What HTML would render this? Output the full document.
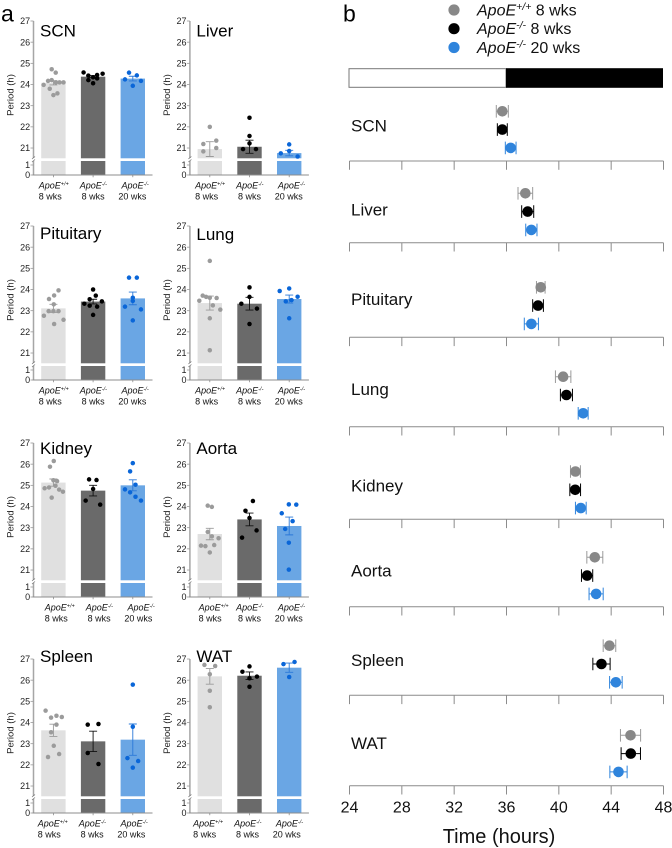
<!DOCTYPE html>
<html lang="en">
<head>
<meta charset="utf-8">
<title>Period and phase of ApoE tissues</title>
<style>
html,body{margin:0;padding:0;background:#fff;}
body{width:672px;height:848px;overflow:hidden;}
svg{display:block;font-family:"Liberation Sans",sans-serif;}
</style>
</head>
<body>
<svg id="figure" width="672" height="848" viewBox="0 0 672 848" xmlns="http://www.w3.org/2000/svg">
  <text x="1" y="21.5" font-size="23" fill="#000">a</text>
  <text x="343" y="21.5" font-size="23" fill="#000">b</text>
</svg>
<script>
const tissues = ['SCN','Liver','Pituitary','Lung','Kidney','Aorta','Spleen','WAT'];
const phaseTissues = ['SCN','Liver','Pituitary','Lung','Kidney','Aorta','Spleen','WAT'];
const groupGenotypes = ['+/+','-/-','-/-'];
const groupAges = ['8 wks','8 wks','20 wks'];
const legendLabels = ['8 wks','8 wks','20 wks'];
const upperTicks = [27,26,25,24,23,22,21];
const lowerTicks = [1,0];
const timeTicks = [24,28,32,36,40,44,48];

/* Period (h): mean of each group, per tissue */
const periodMeans = [
  [24.08,24.37,24.28],[20.95,21.06,20.76],[23.11,23.43,23.58],[23.36,23.33,23.55],
  [25.13,24.75,25.0],[22.7,23.39,23.08],[23.63,23.11,23.19],[26.18,26.21,26.59]
];
const periodSems = [
  [0.1,0.05,0.11],[0.35,0.31,0.13],[0.19,0.11,0.3],[0.33,0.3,0.19],
  [0.17,0.25,0.26],[0.27,0.3,0.42],[0.29,0.48,0.74],[0.37,0.18,0.22]
];
/* Individual samples */
const samplesControl = [
  [24.72,24.56,24.21,24.17,23.98,24.1,24.1,24.1,23.8,23.58,23.5],
  [22.0,21.35,21.19,21.0,20.84],
  [23.96,23.72,23.55,23.3,22.98,22.98,22.98,22.76,22.57,22.37],
  [25.35,23.71,23.65,23.61,23.6,23.47,23.25,23.05,22.64,21.13],
  [26.15,25.88,25.24,25.2,24.98,24.9,24.86,24.8,24.7,24.42],
  [24.04,23.98,22.8,22.59,22.5,22.15,22.13,22.18,21.83],
  [24.56,24.23,24.32,24.26,23.9,23.54,22.9,22.51,22.37],
  [26.72,26.67,26.28,25.5,24.72]
];
const samplesYoung = [
  [24.57,24.51,24.45,24.42,24.34,24.29,24.21,24.06],
  [22.43,21.57,21.22,20.95,20.95],
  [24.0,23.71,23.54,23.44,23.33,23.24,23.19,22.8],
  [24.1,23.65,23.33,23.1,22.37],
  [25.28,25.25,24.83,24.28,24.09],
  [24.26,23.8,23.46,22.87,22.53],
  [23.9,23.93,22.56,22.04],
  [26.65,26.4,26.17,26.09,25.69]
];
const samplesOld = [
  [24.56,24.43,24.24,24.17,23.94],
  [21.17,20.86,20.75,20.6],
  [24.56,24.56,23.61,23.46,23.19,23.06,22.54],
  [24.05,23.93,23.66,23.5,23.44,22.64],
  [26.05,25.66,25.03,24.81,24.67,24.46,24.28],
  [24.1,24.09,23.68,23.31,22.94,22.29,21.02],
  [25.79,23.8,22.32,22.18,21.87],
  [26.86,26.76,26.15]
];
/* Horizontal scatter of samples as a fraction of half a bar */
const scatterControl = [
  [-0.14,0.19,-0.14,-0.44,-0.8,0.83,0.5,0.2,-0.3,0.33,0],
  [0,0.53,-0.53,0.53,-0.53],
  [0.42,0.06,-0.36,0.03,-0.39,0,0.42,-0.78,0.83,0.06],
  [0,-0.58,-0.3,0,0.56,-0.86,0.25,0.86,0,0],
  [0.03,-0.28,0,0.3,0.17,-0.36,-0.72,0.47,0.78,-0.14],
  [-0.17,0.17,-0.17,0.17,0.72,-0.72,-0.36,0.36,0],
  [-0.64,-0.19,0.25,0.69,0.25,-0.19,0.03,0.47,-0.44],
  [-0.44,0.44,0,0,0]
];
const scatterYoung = [
  [-0.78,0.78,0.33,-0.39,0,0.33,-0.39,0],
  [0,0,0,-0.53,0.53],
  [0,0.22,-0.28,0.72,-0.72,-0.28,0.33,0],
  [0,0,-0.67,0.61,0],
  [-0.33,0.28,0,-0.61,0.58],
  [0.28,-0.33,0,0.58,-0.61],
  [-0.44,0.44,-0.44,0.44],
  [0,-0.58,0.61,0,0]
];
const scatterOld = [
  [-0.31,0.33,-0.64,0.67,0],
  [0,0,-0.69,0.69],
  [-0.31,0.33,0,0,-0.64,0.67,0],
  [0,-0.78,0.69,0.19,-0.28,0],
  [0,-0.22,0.22,-0.64,-0.22,0.22,0.67],
  [-0.03,0.58,-0.61,0.28,-0.33,-0.03,-0.03],
  [0,0,-0.44,0.44,0],
  [0.44,-0.47,0]
];
/* Peak phase (h) with half-width of the error bar */
const phaseControl = [35.68,37.44,38.62,40.33,41.27,42.75,43.87,45.48];
const phaseYoung = [35.68,37.62,38.41,40.58,41.25,42.16,43.26,45.5];
const phaseOld = [36.32,37.9,37.9,41.86,41.68,42.85,44.36,44.56];
const phaseErrControl = [0.46,0.56,0.33,0.59,0.38,0.61,0.48,0.77];
const phaseErrYoung = [0.38,0.46,0.41,0.46,0.41,0.43,0.66,0.74];
const phaseErrOld = [0.41,0.43,0.54,0.38,0.41,0.54,0.48,0.66];

/* Layout constants */
const panelTops = [21,21,226,226,443,443,659,659];
const columnOffsets = [0,156.4];
const titleBaselines = [36.5,36.5,239,240,454,454,662,662];
const labelShiftsByPanel = [[0,0,0],[0,0,0],[0,0,0],[0,0,0],[6,6,6],[3.5,0,0],[-1,-1,-1],[-2,-2,-2]];
const rowDotTops = [111.3,193.3,287.3,376.7,471.5,557.3,645.7,735.3];
const rowAxes = [161,242.7,337.3,426.7,519.3,606.7,695.3,785.7];
const rowLabelBaselines = [131.7,215.3,305,395,491.3,576.3,666,749];

const barFills = ['#e0e0e0','#6a6a6a','#6aa6e4'];
const dotFills = ['#9b9b9b','#000000','#0a66d8'];
const errFills = ['#9a9a9a','#111111','#2a78d8'];
const phaseFills = ['#888888','#000000','#2f84dc'];
const capFills = ['#9a9a9a','#000000','#2f84dc'];

const svg = document.getElementById('figure');
const NS = 'http://www.w3.org/2000/svg';
function make(tag, attrs, parent, txt){
  const el = document.createElementNS(NS, tag);
  for (const k in attrs) el.setAttribute(k, attrs[k]);
  if (txt !== undefined) el.textContent = txt;
  (parent || svg).appendChild(el);
  return el;
}

/* Axis functions for the period panels */
const UNIT = 21.17;
function yUpper(top, v){ return top + (27 - v) * UNIT; }
function yLower(top, v){ return top + 154 - v * 10; }
function xGroup(col, g){ return 33.5 + 19.9 + g * 39.7 + columnOffsets[col]; }
/* Axis function for the phase panels */
function xTime(t){ return 349.5 + (t - 24) * (314 / 24); }

const sampleSets = [samplesControl, samplesYoung, samplesOld];
const scatterSets = [scatterControl, scatterYoung, scatterOld];

tissues.forEach(function(name, p){
  const col = p % 2;
  const top = panelTops[p];
  const axisX = 33.5 + columnOffsets[col];
  const y0 = yLower(top, 0);
  const panel = make('g', {}, svg);
  
  

  /* bars */
  periodMeans[p].forEach(function(mean, g){
    const cx = xGroup(col, g);
    const lower = make('rect', {x:cx-12.2, y:top+140, width:24.4, height:y0-top-140, fill:barFills[g]}, panel);
    
    
    const yTop = yUpper(top, mean);
    const upper = make('rect', {x:cx-12.2, y:yTop, width:24.4, height:top+137.3-yTop, fill:barFills[g]}, panel);
    
    
  });

  /* y axis */
  const yAxis = make('path', {d:'M'+axisX+' '+top+'V'+(top+137)+'M'+axisX+' '+(top+140)+'V'+y0, stroke:'#a6a6a6', 'stroke-width':1.5, fill:'none'}, panel);
  
  
  const brk = make('path', {d:'M'+(axisX-1.5)+' '+(top+138)+'l3 -2.5M'+(axisX-1.5)+' '+(top+141)+'l3 -2.5', stroke:'#777', 'stroke-width':0.8, fill:'none'}, panel);
  
  

  upperTicks.forEach(function(t){
    const y = yUpper(top, t);
    make('line', {x1:axisX-3, x2:axisX, y1:y, y2:y, stroke:'#999', 'stroke-width':0.8}, panel);
    const lab = make('text', {x:axisX-3.4, y:y+3.2, 'font-size':9, 'text-anchor':'end', fill:'#222'}, panel, String(t));
    
    
  });
  lowerTicks.forEach(function(t){
    const y = yLower(top, t);
    make('line', {x1:axisX-3, x2:axisX, y1:y, y2:y, stroke:'#999', 'stroke-width':0.8}, panel);
    const lab = make('text', {x:axisX-3.4, y:y+3.2, 'font-size':9, 'text-anchor':'end', fill:'#222'}, panel, String(t));
    
    
  });

  /* x axis */
  const xAxis = make('line', {x1:axisX-1, x2:axisX+119, y1:y0, y2:y0, stroke:'#8c8c8c', 'stroke-width':1}, panel);
  
  

  /* y title */
  const yTitleX = 13.5 + columnOffsets[col];
  const yTitleY = top + 74;
  const yTitle = make('text', {x:yTitleX, y:yTitleY, 'font-size':9.5, 'text-anchor':'middle', fill:'#222', transform:'rotate(-90 '+yTitleX+' '+yTitleY+')'}, panel, 'Period (h)');
  
  

  /* title */
  const title = make('text', {x:40+columnOffsets[col], y:titleBaselines[p], 'font-size':17, fill:'#000'}, panel, name);
  
  

  /* error bars and samples */
  periodMeans[p].forEach(function(mean, g){
    const cx = xGroup(col, g);
    const sem = periodSems[p][g];
    const yHi = yUpper(top, mean + sem), yLo = yUpper(top, mean - sem);
    const err = make('path', {d:'M'+(cx-4)+' '+yHi+'H'+(cx+4)+'M'+cx+' '+yHi+'V'+yLo+'M'+(cx-4)+' '+yLo+'H'+(cx+4), stroke:errFills[g], 'stroke-width':0.9, fill:'none'}, panel);
    
    
    make('line', {x1:cx, x2:cx, y1:y0, y2:y0+2.2, stroke:'#8c8c8c', 'stroke-width':0.8}, panel);

    sampleSets[g][p].forEach(function(v, i){
      const dot = make('circle', {cx:cx + scatterSets[g][p][i]*12.2, cy:yUpper(top, v), r:2.25, fill:dotFills[g]}, panel);
      
      
    });

    /* x tick labels */
    const shift = labelShiftsByPanel[p][g];
    const bump = g === 0 ? -3.2 : (g === 2 ? -2.4 : 0);
    const geno = make('text', {x:cx + shift + 0.3 + (g === 2 ? 2 : 0), y:y0+13.5, 'font-size':9, 'text-anchor':'middle', 'font-style':'italic', fill:'#111'}, panel);
    
    
    make('tspan', {}, geno, 'ApoE');
    make('tspan', {dy:-3, 'font-size':5.5}, geno, groupGenotypes[g]);
    const age = make('text', {x:cx + shift + bump + (g === 2 ? 2 : 0), y:y0+24.4, 'font-size':9, 'text-anchor':'middle', fill:'#111'}, panel, groupAges[g]);
    
    
  });
});

/* Panel b legend */
const legendGroup = make('g', {}, svg);


const legendY = [10, 28.7, 47.5];
legendLabels.forEach(function(label, g){
  const entry = make('g', {}, legendGroup);
  
  
  make('circle', {cx:454, cy:legendY[g], r:5.6, fill:phaseFills[g]}, entry);
  const t = make('text', {x:477, y:legendY[g]+5.5, 'font-size':16, fill:'#111'}, entry);
  make('tspan', {'font-style':'italic'}, t, 'ApoE');
  make('tspan', {dy:-5.5, 'font-size':10.5, 'font-style':'italic'}, t, groupGenotypes[g]);
  make('tspan', {dy:5.5}, t, ' ' + label);
});

/* Light / dark bar */
const lightBar = make('rect', {x:349, y:68.7, width:157, height:18.6, fill:'#fff', stroke:'#777', 'stroke-width':1}, svg);


const darkBar = make('rect', {x:506, y:68.2, width:157, height:19.6, fill:'#000'}, svg);



/* Phase rows */
const phaseSets = [phaseControl, phaseYoung, phaseOld];
const phaseErrSets = [phaseErrControl, phaseErrYoung, phaseErrOld];
phaseTissues.forEach(function(name, r){
  const row = make('g', {}, svg);
  
  
  const lab = make('text', {x:351, y:rowLabelBaselines[r], 'font-size':17, fill:'#111'}, row, name);
  
  
  const axisY = rowAxes[r];
  const axis = make('line', {x1:xTime(24), x2:xTime(48), y1:axisY, y2:axisY, stroke:'#8c8c8c', 'stroke-width':1}, row);
  
  
  timeTicks.forEach(function(t){
    const x = xTime(t);
    const tick = make('line', {x1:x, x2:x, y1:axisY, y2:axisY+8.8, stroke:'#8c8c8c', 'stroke-width':1}, row);
    
    
  });
  phaseSets.forEach(function(set, g){
    const cy = rowDotTops[r] + g * 18.3;
    const cx = xTime(set[r]);
    const lo = xTime(set[r] - phaseErrSets[g][r]);
    const hi = xTime(set[r] + phaseErrSets[g][r]);
    const err = make('path', {d:'M'+lo+' '+(cy-6.3)+'V'+(cy+6.3)+'M'+lo+' '+cy+'H'+hi+'M'+hi+' '+(cy-6.3)+'V'+(cy+6.3), stroke:capFills[g], 'stroke-width':1, fill:'none'}, row);
    
    
    const dot = make('circle', {cx:cx, cy:cy, r:5.3, fill:phaseFills[g]}, row);
    
    
  });
});

/* Time tick labels and title */
timeTicks.forEach(function(t){
  const lab = make('text', {x:xTime(t), y:812.7, 'font-size':16, 'text-anchor':'middle', fill:'#111'}, svg, String(t));
  
  
});
const timeTitle = make('text', {x:499, y:843, 'font-size':20, 'text-anchor':'middle', fill:'#111'}, svg, 'Time (hours)');


</script>
</body>
</html>
